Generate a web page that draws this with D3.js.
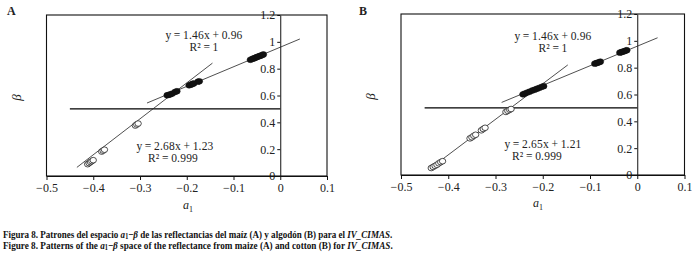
<!DOCTYPE html>
<html>
<head>
<meta charset="utf-8">
<script src="https://cdn.jsdelivr.net/npm/d3@7"></script>
<style>
	body { margin: 0; background: #fff; }
	text { font-family: "Liberation Serif", "Times New Roman", serif; fill: #222; }
	.axis text { font-size: 12px; }
	.axis path, .axis line { stroke: #111; stroke-width: 1; }
	.frame { fill: none; stroke: #111; stroke-width: 1.1; }
	.fit { stroke: #222; stroke-width: 0.8; }
	.cut { stroke: #000; stroke-width: 1.3; }
	.eq { font-size: 11.5px; letter-spacing: 0.2px; }
	.caption { font-size: 11px; font-weight: bold; fill: #111; }
</style>
</head>
<body>
<script>
//tick values shared by both panels
var xTicks = [-0.5, -0.4, -0.3, -0.2, -0.1, 0, 0.1];
var yTicks = [0, 0.2, 0.4, 0.6, 0.8, 1, 1.2];

//maize (A): filled points on the upper fit, open points on the lower fit
var maizeFilled = [[-0.064,0.866],[-0.060,0.872],[-0.057,0.876],[-0.054,0.880],[-0.051,0.885],
	[-0.048,0.889],[-0.045,0.893],[-0.042,0.897],[-0.039,0.901],[-0.036,0.906],
	[-0.195,0.676],[-0.191,0.681],[-0.188,0.686],[-0.185,0.690],[-0.176,0.703],[-0.173,0.706],
	[-0.242,0.602],[-0.238,0.605],[-0.235,0.609],[-0.231,0.614],[-0.225,0.626],[-0.221,0.632]];
var maizeOpen = [[-0.310,0.376],[-0.307,0.384],[-0.304,0.391],
	[-0.382,0.182],[-0.379,0.189],[-0.376,0.196],
	[-0.412,0.088],[-0.409,0.096],[-0.406,0.104],[-0.403,0.111],[-0.400,0.118]];

//cotton (B)
var cottonFilled = [[-0.037,0.912],[-0.034,0.915],[-0.031,0.919],[-0.028,0.922],[-0.025,0.926],[-0.022,0.930],
	[-0.090,0.830],[-0.087,0.833],[-0.084,0.837],[-0.081,0.840],[-0.078,0.845],
	[-0.242,0.601],[-0.238,0.607],[-0.233,0.614],[-0.228,0.621],[-0.222,0.630],
	[-0.217,0.636],[-0.212,0.643],[-0.207,0.650],[-0.202,0.657],[-0.198,0.662]];
var cottonOpen = [[-0.278,0.470],[-0.274,0.478],[-0.270,0.486],[-0.267,0.492],
	[-0.354,0.273],[-0.350,0.281],[-0.346,0.292],[-0.342,0.300],[-0.330,0.333],[-0.326,0.343],[-0.322,0.352],
	[-0.436,0.052],[-0.432,0.060],[-0.428,0.068],[-0.424,0.076],[-0.420,0.087],[-0.416,0.096],[-0.412,0.103]];

//fitted lines: slope, intercept, x from, x to
var maizeFits = [[1.46, 0.96, -0.285, 0.042], [2.68, 1.23, -0.435, -0.145]];
var cottonFits = [[1.46, 0.96, -0.287, 0.043], [2.65, 1.21, -0.440, -0.147]];

//equation labels
var maizeEqs = ["y\u2009=\u20091.46x\u2009+\u20090.96", "R\u00b2\u2009=\u20091", "y\u2009=\u20092.68x\u2009+\u20091.23", "R\u00b2\u2009=\u20090.999"];
var cottonEqs = ["y\u2009=\u20091.46x\u2009+\u20090.96", "R\u00b2\u2009=\u20091", "y\u2009=\u20092.65x\u2009+\u20091.21", "R\u00b2\u2009=\u20090.999"];

(function(){

	var svg = d3.select("body")
		.append("svg")
		.attr("width", 692)
		.attr("height", 258);

	//panel A
	drawPanel({
		letter: "A", letterX: 7,
		left: 46.5, right: 327, top: 15, bottom: 176,
		filled: maizeFilled, open: maizeOpen, fits: maizeFits, eqs: maizeEqs,
		eqPos: [[204, 39], [204, 51], [175, 149.5], [173, 161.5]],
		betaX: 21, a1X: 188, a1Y: 209
	});

	//panel B
	drawPanel({
		letter: "B", letterX: 359,
		left: 401, right: 684.5, top: 14, bottom: 175,
		filled: cottonFilled, open: cottonOpen, fits: cottonFits, eqs: cottonEqs,
		eqPos: [[553, 40], [553, 52], [543, 147.5], [537, 159.5]],
		betaX: 375, a1X: 538, a1Y: 207
	});

	drawCaption();

	function drawPanel(p){
		var x = d3.scaleLinear().domain([-0.5, 0.1]).range([p.left, p.right]);
		var y = d3.scaleLinear().domain([0, 1.2]).range([p.bottom, p.top]);
		var g = svg.append("g");

		//panel letter
		g.append("text")
			.attr("x", p.letterX)
			.attr("y", 15)
			.style("font-size", "12px")
			.style("font-weight", "bold")
			.text(p.letter);

		//x axis
		g.append("g")
			.attr("class", "axis")
			.attr("transform", "translate(0," + p.bottom + ")")
			.call(d3.axisBottom(x).tickValues(xTicks).tickSize(4).tickSizeOuter(0).tickPadding(3).tickFormat(d3.format("~g")));

		//y axis sits on x = 0
		g.append("g")
			.attr("class", "axis")
			.attr("transform", "translate(" + x(0) + ",0)")
			.call(d3.axisLeft(y).tickValues(yTicks).tickSize(3).tickSizeOuter(0).tickPadding(2).tickFormat(d3.format("~g")));

		//plot frame
		g.append("rect")
			.attr("class", "frame")
			.attr("x", p.left)
			.attr("y", p.top)
			.attr("width", p.right - p.left)
			.attr("height", p.bottom - p.top);

		//threshold line at beta = 0.5
		g.append("line")
			.attr("class", "cut")
			.attr("x1", x(-0.45)).attr("x2", x(0))
			.attr("y1", y(0.5)).attr("y2", y(0.5));

		//regression lines
		g.selectAll(".fit")
			.data(p.fits)
			.enter()
			.append("line")
			.attr("class", "fit")
			.attr("x1", function(d){ return x(d[2]); })
			.attr("y1", function(d){ return y(d[0] * d[2] + d[1]); })
			.attr("x2", function(d){ return x(d[3]); })
			.attr("y2", function(d){ return y(d[0] * d[3] + d[1]); });

		//open markers
		g.selectAll(".open")
			.data(p.open)
			.enter()
			.append("ellipse")
			.attr("class", "open")
			.attr("cx", function(d){ return x(d[0]); })
			.attr("cy", function(d){ return y(d[1]); })
			.attr("rx", 3.2).attr("ry", 2.8)
			.style("fill", "#fff")
			.style("stroke", "#222")
			.style("stroke-width", 0.8);

		//filled markers
		g.selectAll(".filled")
			.data(p.filled)
			.enter()
			.append("ellipse")
			.attr("class", "filled")
			.attr("cx", function(d){ return x(d[0]); })
			.attr("cy", function(d){ return y(d[1]); })
			.attr("rx", 3.3).attr("ry", 2.9)
			.style("fill", "#111")
			.style("stroke", "#111")
			.style("stroke-width", 0.5);

		//equations
		g.selectAll(".eq")
			.data(p.eqs)
			.enter()
			.append("text")
			.attr("class", "eq")
			.attr("text-anchor", "middle")
			.attr("x", function(d, i){ return p.eqPos[i][0]; })
			.attr("y", function(d, i){ return p.eqPos[i][1]; })
			.text(function(d){ return d; });

		//axis titles
		var a1 = g.append("text")
			.attr("x", p.a1X)
			.attr("y", p.a1Y)
			.attr("text-anchor", "middle")
			.style("font-size", "12px");
		a1.append("tspan").style("font-style", "italic").text("a");
		a1.append("tspan").attr("dy", 3).style("font-size", "8px").text("1");

		g.append("text")
			.attr("transform", "translate(" + p.betaX + "," + (y(0.6) + 2) + ") rotate(-90)")
			.attr("text-anchor", "middle")
			.style("font-size", "13px")
			.style("font-style", "italic")
			.text("\u03b2");
	}

	function drawCaption(){
		var lines = [
			[["Figura 8. Patrones del espacio ", ""], ["a", "i"], ["1", "s"], ["\u2212", ""], ["\u03b2", "i"],
				[" de las reflectancias del maíz (A) y algodón (B) para el ", ""], ["IV_CIMAS", "i"], [".", ""]],
			[["Figure 8. Patterns of the ", ""], ["a", "i"], ["1", "s"], ["\u2212", ""], ["\u03b2", "i"],
				[" space of the reflectance from maize (A) and cotton (B) for ", ""], ["IV_CIMAS", "i"], [".", ""]]
		];
		var baselines = [237.5, 248.5];

		lines.forEach(function(parts, li){
			var t = svg.append("text").attr("class", "caption");
			var sub = false;
			parts.forEach(function(part){
				var ts = t.append("tspan").text(part[0]);
				if (part[1] == "i") ts.style("font-style", "italic");
				if (part[1] == "s") { ts.attr("dy", 1.5).style("font-size", "7.5px"); sub = true; }
				else if (sub) { ts.attr("dy", -1.5); sub = false; }
			});
			//squeeze to the width of the printed caption
			var w = t.node().getComputedTextLength();
			t.attr("transform", "translate(3," + baselines[li] + ") scale(" + (390 / w) + ",1)");
		});
	}

})();
</script>
</body>
</html>
